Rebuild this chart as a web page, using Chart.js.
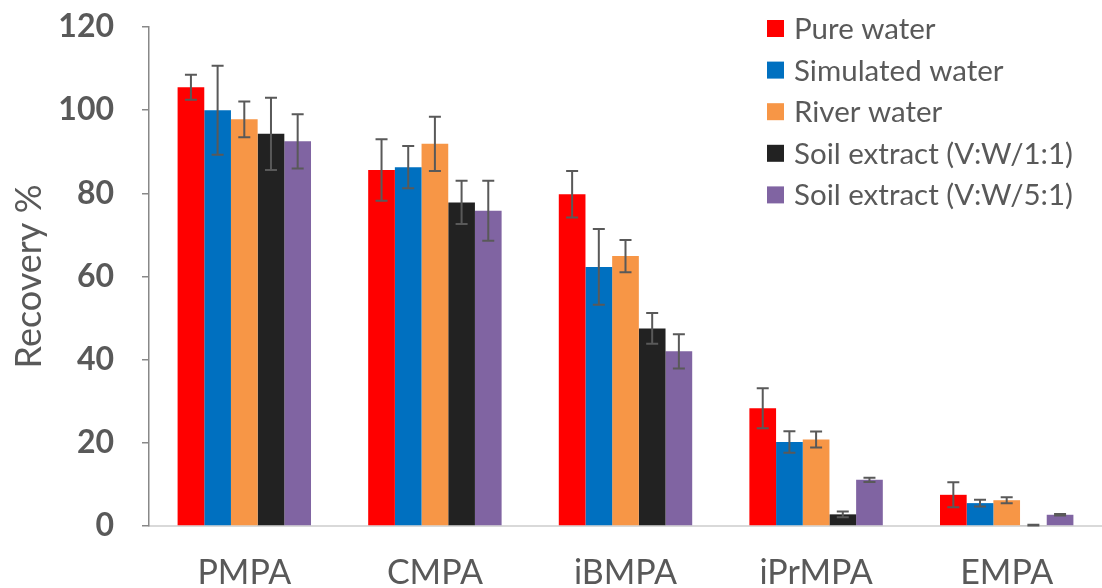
<!DOCTYPE html>
<html>
<head>
<meta charset="utf-8">
<script src="https://cdn.jsdelivr.net/npm/chart.js@4.4.1/dist/chart.umd.min.js"></script>
<style>
  html, body { margin: 0; padding: 0; background: #ffffff; }
  #wrap { width: 1102px; height: 588px; position: relative; }
</style>
</head>
<body>
<div id="wrap"><canvas id="c" width="1102" height="588"></canvas></div>
<script>
const categories = ["PMPA", "CMPA", "iBMPA", "iPrMPA", "EMPA"];
const seriesNames = ["Pure water", "Simulated water", "River water", "Soil extract (V:W/1:1)", "Soil extract (V:W/5:1)"];
const pureWater      = [105.5, 85.6, 79.8, 28.3, 7.5];
const simulatedWater = [100.0, 86.3, 62.3, 20.2, 5.5];
const riverWater     = [97.8, 91.9, 64.9, 20.8, 6.2];
const soilExtract11  = [94.3, 77.8, 47.5, 2.8, 0.2];
const soilExtract51  = [92.5, 75.8, 42.0, 11.1, 2.7];
const pureWaterErr      = [3.0, 7.4, 5.6, 4.8, 3.0];
const simulatedWaterErr = [10.7, 5.1, 9.1, 2.6, 0.8];
const riverWaterErr     = [4.3, 6.5, 3.9, 1.9, 0.7];
const soilExtract11Err  = [8.7, 5.2, 3.7, 0.7, 0.1];
const soilExtract51Err  = [6.5, 7.2, 4.1, 0.5, 0.2];
const yTicks = [0, 20, 40, 60, 80, 100, 120];

const colors = ["#FF0000", "#0070C0", "#F79646", "#222222", "#8064A2"];
const values = [pureWater, simulatedWater, riverWater, soilExtract11, soilExtract51];
const errors = [pureWaterErr, simulatedWaterErr, riverWaterErr, soilExtract11Err, soilExtract51Err];

const FONT = "Lato, 'Open Sans', sans-serif";
const TEXT = "#595959";

const errorBars = {
  id: 'errorBars',
  afterDatasetsDraw(chart) {
    const ctx = chart.ctx, y = chart.scales.y;
    ctx.save();
    ctx.strokeStyle = TEXT;
    ctx.lineWidth = 2;
    chart.data.datasets.forEach((ds, i) => {
      const meta = chart.getDatasetMeta(i);
      meta.data.forEach((bar, j) => {
        const v = ds.data[j], e = ds.errs[j];
        const yt = y.getPixelForValue(v + e), yb = y.getPixelForValue(v - e);
        const x = bar.x, w = 6;
        ctx.beginPath();
        ctx.moveTo(x, yt); ctx.lineTo(x, yb);
        ctx.moveTo(x - w, yt); ctx.lineTo(x + w, yt);
        ctx.moveTo(x - w, yb); ctx.lineTo(x + w, yb);
        ctx.stroke();
      });
    });
    ctx.restore();
  }
};

const legendPlugin = {
  id: 'customLegend',
  afterDraw(chart) {
    const ctx = chart.ctx;
    ctx.save();
    ctx.font = "29.5px " + FONT;
    ctx.textBaseline = 'middle';
    chart.data.datasets.forEach((ds, i) => {
      const cy = 28.5 + i * 41.6;
      ctx.fillStyle = ds.backgroundColor;
      ctx.fillRect(767, cy - 8.5, 17, 17);
      ctx.fillStyle = TEXT;
      ctx.fillText(ds.label, 794, cy + 1);
    });
    ctx.restore();
  }
};

new Chart(document.getElementById('c'), {
  type: 'bar',
  data: {
    labels: categories,
    datasets: seriesNames.map((n, i) => ({
      label: n,
      data: values[i],
      errs: errors[i],
      backgroundColor: colors[i],
      borderWidth: 0,
      categoryPercentage: 0.7,
      barPercentage: 1.0
    }))
  },
  options: {
    responsive: false,
    animation: false,
    layout: { padding: { top: 27, right: -7, left: 0, bottom: 0 } },
    plugins: { legend: { display: false }, tooltip: { enabled: false } },
    scales: {
      x: {
        grid: { display: false, drawTicks: false },
        border: { display: true, color: '#D9D9D9', width: 2 },
        ticks: { color: TEXT, font: { family: FONT, size: 34 }, padding: 27, maxRotation: 0 },
        afterFit(s) { s.height = 62; s.paddingLeft = 0; s.paddingRight = 0; }
      },
      y: {
        min: 0, max: 120,
        afterBuildTicks(s) { s.ticks = yTicks.map(v => ({ value: v })); },
        grid: { drawOnChartArea: false, drawTicks: true, tickLength: 7, color: '#888888', lineWidth: 1.5 },
        border: { display: true, color: '#888888', width: 1.5 },
        ticks: { color: TEXT, font: { family: FONT, size: 32, weight: 'bold' }, padding: 28 },
        title: { display: true, text: 'Recovery %', color: TEXT, font: { family: FONT, size: 36 }, padding: { top: 8, bottom: 0 } },
        afterFit(s) { s.width = 149; s.paddingTop = 0; s.paddingBottom = 0; }
      }
    }
  },
  plugins: [errorBars, legendPlugin]
});
</script>
</body>
</html>
